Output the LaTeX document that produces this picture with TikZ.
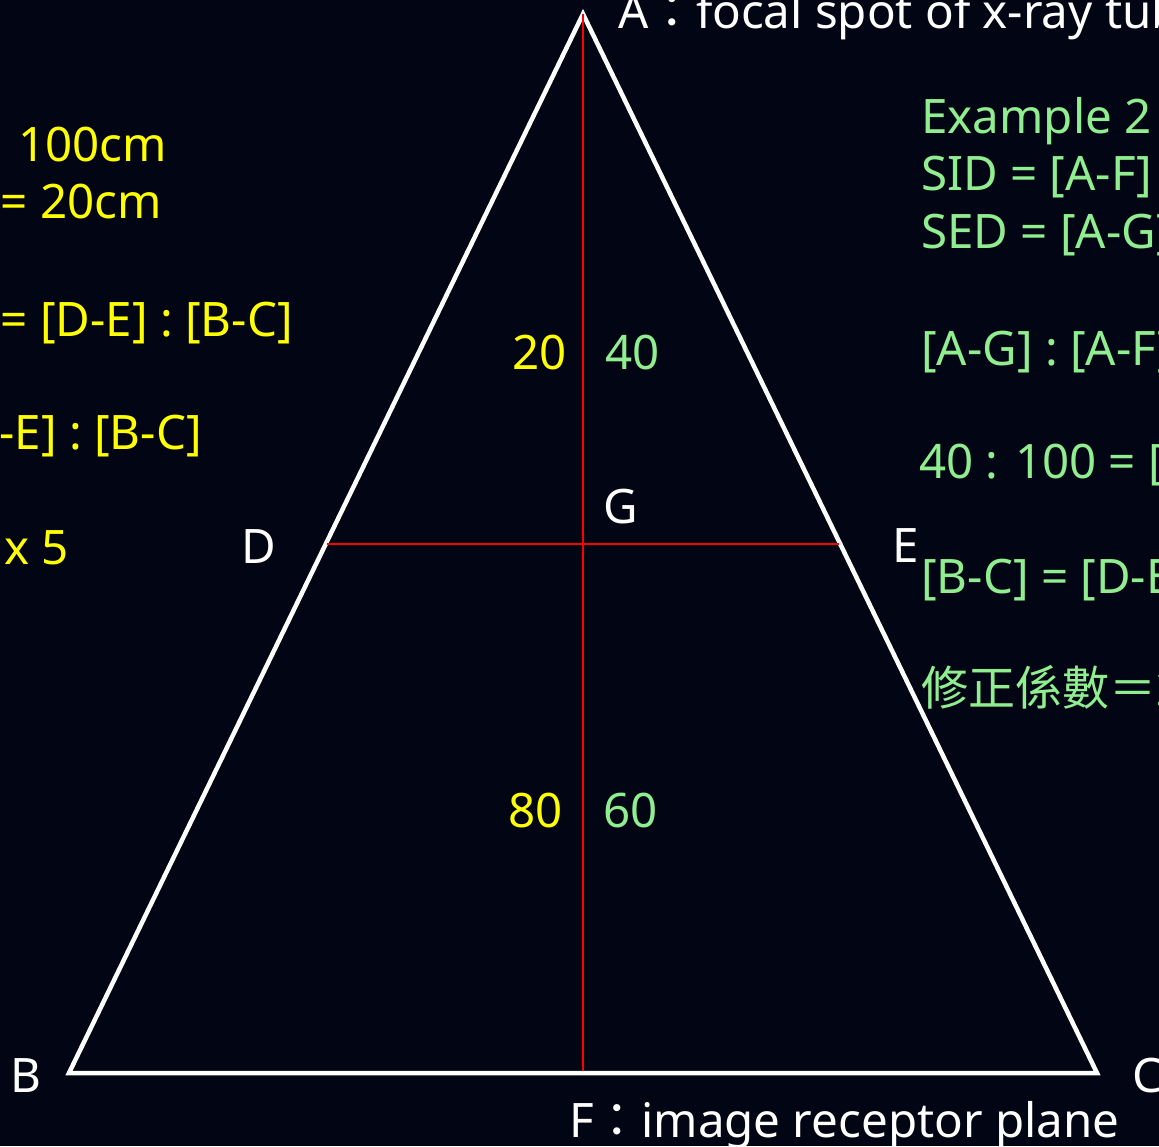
\documentclass[tikz,border=0pt]{standalone}
\usepackage{fontspec}
\setmainfont{Noto Sans}
\newfontfamily\cjk{Noto Sans CJK TC}
\definecolor{bgc}{RGB}{2,6,20}
\definecolor{ylw}{RGB}{255,255,0}
\definecolor{grn}{RGB}{144,238,144}
\begin{document}
\begin{tikzpicture}[x=1pt,y=-1pt,
  txt/.style={inner sep=0pt,font=\fontsize{47.5}{57}\selectfont},
  yl/.style={txt,text=ylw},
  gr/.style={txt,text=grn},
  wt/.style={txt,text=white},
  tri/.style={draw=white,line width=4.5pt,line join=miter},
  redl/.style={draw=red,line width=1.8pt}]
\useasboundingbox (0,0) rectangle (1159,1146);
\fill[bgc] (0,0) rectangle (1159,1146);
\clip (0,0) rectangle (1159,1146);
\coordinate (A) at (583,14);
\coordinate (B) at (69,1073);
\coordinate (C) at (1097,1073);
\coordinate (F) at (583,1071);
\coordinate (D) at (327,544);
\coordinate (E) at (839,544);
\draw[tri] (A) -- (B) -- (C) -- cycle;
\draw[redl] (A) -- (F);
\draw[redl] (D) -- (E);
% vertex labels
\node[wt,anchor=base west] (lA) at (618,28) {A{\cjk ：}focal spot of x-ray tube};
\node[wt,anchor=base west] (lF) at (569,1137) {F{\cjk ：}image receptor plane};
\node[wt,anchor=base west] (lB) at (10,1092) {B};
\node[wt,anchor=base west] (lC) at (1132,1092) {C};
\node[wt,anchor=base west] (lD) at (241,563) {D};
\node[wt,anchor=base west] (lE) at (892,562) {E};
\node[wt,anchor=base west] (lG) at (603,523) {G};
% distances
\node[yl,anchor=base east] (n20) at (567,369) {20};
\node[gr,anchor=base west] (n40) at (605,369) {40};
\node[yl,anchor=base east] (n80) at (563,827) {80};
\node[gr,anchor=base west] (n60) at (603,827) {60};
% left yellow (example 1)
\node[yl,anchor=base east] (l1) at (167,161) {SID =\hspace{18pt} 100cm};
\node[yl,anchor=base east] (l2) at (162,218) {SED = 20cm};
\node[yl,anchor=base east] (l3) at (293,336) {[A-G] : [A-F] = [D-E] : [B-C]};
\node[yl,anchor=base east] (l4) at (202,449) {20 : 100 = [D-E] : [B-C]};
\node[yl,anchor=base east] (l5) at (69,564) {[B-C] = [D-E] x 5};
% right green (example 2)
\node[gr,anchor=base west] (r1) at (921,133) {Example 2};
\node[gr,anchor=base west] (r2) at (921,190) {SID = [A-F] = 100cm};
\node[gr,anchor=base west] (r3) at (921,248) {SED = [A-G] = 40cm};
\node[gr,anchor=base west] (r4) at (921,365) {[A-G] : [A-F] = [D-E] : [B-C]};
\node[gr,anchor=base west] (r5) at (919,478) {40 : 100 = [D-E] : [B-C]};
\node[gr,anchor=base west] (r6) at (921,593) {[B-C] = [D-E] x 2.5};
\node[gr,anchor=base west,font=\cjk\fontsize{47}{56}\selectfont] (r7) at (921,705) {修正係數＝2.5};
\end{tikzpicture}
\end{document}
